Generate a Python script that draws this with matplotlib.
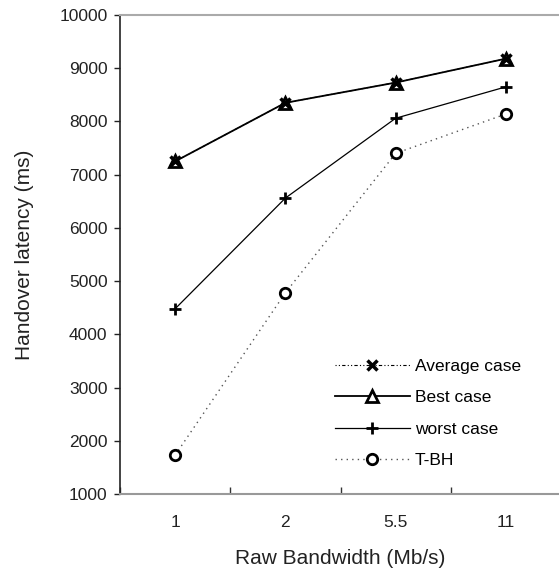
import matplotlib
matplotlib.use("Agg")
import matplotlib.pyplot as plt
import numpy as np

plt.rcParams['font.family'] = ['Liberation Sans', 'DejaVu Sans']

categories = ["1", "2", "5.5", "11"]
average_case = [7250, 8350, 8730, 9180]
best_case = [7250, 8350, 8730, 9180]
worst_case = [4480, 6560, 8060, 8650]
tbh = [1730, 4780, 7400, 8140]
yticks = [1000, 2000, 3000, 4000, 5000, 6000, 7000, 8000, 9000, 10000]

fig = plt.figure(figsize=(5.59, 5.70), dpi=100)
ax = fig.add_axes([120/559, 1 - 494/570, 441/559, (494 - 15)/570])

x = np.arange(len(categories))

ax.plot(x, tbh, linestyle=(0, (1, 3)), color='#555555', linewidth=1.0,
        marker='o', markersize=7.5, markerfacecolor='white', markeredgecolor='black',
        markeredgewidth=2.0, label='T-BH', zorder=2)
ax.plot(x, worst_case, linestyle='-', color='black', linewidth=0.9,
        marker='+', markersize=9, markeredgewidth=2.0, label='worst case', zorder=3)
ax.plot(x, best_case, linestyle='-', color='black', linewidth=1.3,
        marker='^', markersize=8, markerfacecolor='white', markeredgecolor='black',
        markeredgewidth=2.0, label='Best case', zorder=4)
ax.plot(x, average_case, linestyle=(0, (1, 2, 1, 2, 3, 2)), color='black', linewidth=0.8,
        marker='x', markersize=7, markeredgewidth=2.5, label='Average case', zorder=5)

ax.set_xlim(-0.5, 3.5)
ax.set_ylim(1000, 10000)
ax.set_yticks(yticks)
ax.set_yticklabels([str(v) for v in yticks])
ax.set_xticks(x)
ax.set_xticklabels(categories)
ax.set_xticks(np.arange(-0.5, 3.5, 1.0), minor=True)

ax.tick_params(axis='x', which='major', length=0, labelsize=12.5, pad=15, colors='#222222')
ax.tick_params(axis='x', which='minor', length=5, direction='in', color='#333333', width=1)
ax.tick_params(axis='y', which='major', left=True, right=True, direction='out', length=4,
               labelsize=12.5, colors='#222222', width=1, pad=5)

for t in ax.yaxis.get_major_ticks():
    t.tick2line.set_markersize(3)
    t.tick2line.set_color('#555555')

ax.spines['left'].set_color('#222222')
ax.spines['left'].set_linewidth(1.2)
ax.spines['bottom'].set_color('#999999')
ax.spines['bottom'].set_linewidth(1.5)
ax.spines['top'].set_color('#aaaaaa')
ax.spines['top'].set_linewidth(1.5)
ax.spines['right'].set_visible(False)

ax.set_xlabel('Raw Bandwidth (Mb/s)', fontsize=15, labelpad=14, color='#222222')
ax.set_ylabel('Handover latency (ms)', fontsize=15, labelpad=18, color='#222222')

handles, labels = ax.get_legend_handles_labels()
order = [3, 2, 1, 0]
leg = ax.legend([handles[i] for i in order], [labels[i] for i in order],
                loc='upper left', bbox_to_anchor=((335 - 120)/441, (494 - 359)/479),
                bbox_transform=ax.transAxes, frameon=False, fontsize=12.5,
                borderaxespad=0, borderpad=0,
                handlelength=4.3, labelspacing=0.93, handletextpad=0.3)

fig.savefig('out.png', dpi=100)
